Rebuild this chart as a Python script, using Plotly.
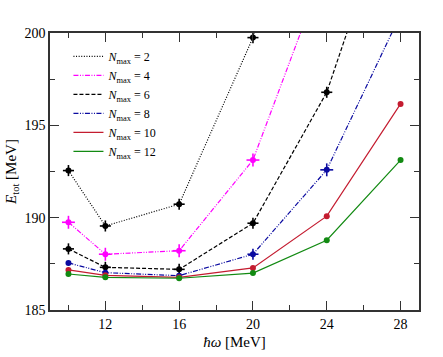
import plotly.graph_objects as go

# hbar*omega grid [MeV]
hw = [10, 12, 16, 20, 24, 28]

# E_tot [MeV] per N_max (points above 200 run off the top of the frame)
e_n2 = [192.55, 189.55, 190.73, 199.75, 212.0]
e_n4 = [189.75, 188.02, 188.21, 193.12, 203.8]
e_n6 = [188.31, 187.31, 187.20, 189.70, 196.79, 208.6]
e_n8 = [187.55, 187.02, 186.86, 188.02, 192.59, 201.0]
e_n10 = [187.17, 186.88, 186.77, 187.28, 190.08, 196.16]
e_n12 = [186.95, 186.77, 186.72, 187.00, 188.78, 193.12]

# uncertainties drawn as crosses
err_n2 = [0.3, 0.3, 0.3, 0.3, 0.3]
err_n4 = [0.35, 0.35, 0.35, 0.35, 0.35]
err_n6 = [0.3, 0.3, 0.3, 0.3, 0.3, 0.3]
err_n8 = [0.1, 0.1, 0.1, 0.3, 0.35, 0.35]
err_n10 = [0, 0, 0, 0, 0, 0]
err_n12 = [0, 0, 0, 0, 0, 0]

series = [
    ("2", e_n2, err_n2, "black", "1px,1.6px"),
    ("4", e_n4, err_n4, "#ff00ff", "5px,1.5px,1px,1.5px,1px,1.5px"),
    ("6", e_n6, err_n6, "black", "4px,2px"),
    ("8", e_n8, err_n8, "#0a0aa0", "5px,1.5px,1px,1.5px,1px,1.5px"),
    ("10", e_n10, err_n10, "#c41c30", "solid"),
    ("12", e_n12, err_n12, "#128a12", "solid"),
]

fig = go.Figure()

for nmax, e, err, col, dash in series:
    xs = hw[:len(e)]
    fig.add_trace(go.Scatter(
        x=xs, y=e, mode="lines+markers", showlegend=False,
        line=dict(color=col, width=1.2, dash=dash),
        marker=dict(color=col, size=6, symbol="circle"),
        error_y=dict(type="data", array=err, color=col, thickness=1.6, width=0),
        error_x=dict(type="data", array=err, color=col, thickness=1.6, width=0),
    ))
    # legend entry: line sample only
    fig.add_trace(go.Scatter(
        x=[None], y=[None], mode="lines",
        name="<i>N</i><sub>max</sub> = " + nmax,
        line=dict(color=col, width=1.2, dash=dash),
    ))

axis_common = dict(
    showgrid=False, zeroline=False, showline=True, linecolor="#333333",
    linewidth=1.5, mirror="ticks", ticks="inside", tickcolor="#333333",
    tickwidth=1.2, ticklen=9, automargin=False,
)

fig.update_xaxes(
    range=[9, 29], tick0=0, dtick=4,
    minor=dict(dtick=2, tick0=0, ticks="inside", ticklen=5, tickcolor="#333333", tickwidth=1.2),
    title=dict(text="<i>ħω</i> [MeV]", standoff=6, font=dict(size=15)),
    **axis_common,
)
fig.update_yaxes(
    range=[185, 200], tick0=185, dtick=5,
    minor=dict(dtick=2.5, tick0=185, ticks="inside", ticklen=5, tickcolor="#333333", tickwidth=1.2),
    title=dict(text="<i>E</i><sub>tot</sub> [MeV]", standoff=4, font=dict(size=15)),
    **axis_common,
)

fig.update_layout(
    width=443, height=357,
    margin=dict(l=50, r=24, t=33, b=47),
    plot_bgcolor="white", paper_bgcolor="white",
    font=dict(family="Liberation Serif, serif", size=14, color="black"),
    legend=dict(
        x=0.05, y=0.968, xanchor="left", yanchor="top",
        bgcolor="rgba(0,0,0,0)", font=dict(size=12), tracegroupgap=0,
        itemwidth=30,
    ),
)

# drop the browser's default body margin so the figure sits at the page corner
fig.write_html("out.html", config={"displayModeBar": False},
               post_script="document.body.style.margin = '0';")
